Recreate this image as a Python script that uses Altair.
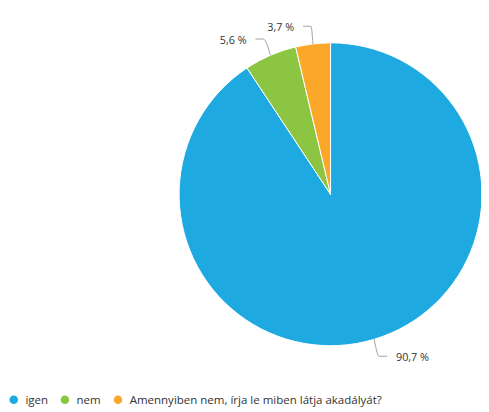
import altair as alt
import pandas as pd

categories = ["igen", "nem", "Amennyiben nem, írja le miben látja akadályát?"]
values = [90.7, 5.6, 3.7]
labels = ["90,7 %", "5,6 %", "3,7 %"]
colors = ["#1fa9e1", "#8bc541", "#fba72a"]

df = pd.DataFrame({
    "category": categories,
    "value": values,
    "label": labels,
    "order": list(range(len(categories))),
})

CX, CY, R = 328, 186, 154
OUT = 18
HOR = 8
GAP = 9

base = alt.Chart(df)

pie = base.mark_arc(radius=R, stroke="white", strokeWidth=1).encode(
    theta=alt.Theta("value:Q", stack=True),
    order=alt.Order("order:Q"),
    color=alt.Color(
        "category:N",
        sort=categories,
        scale=alt.Scale(domain=categories, range=colors),
        legend=alt.Legend(
            title=None,
            orient="none",
            legendX=0,
            legendY=389,
            direction="horizontal",
            symbolType="circle",
            symbolSize=75,
            symbolStrokeWidth=0,
            labelFont="Open Sans",
            labelFontSize=11.7,
            labelColor="#333333",
            labelLimit=400,
            columnPadding=11,
            labelOffset=6,
            padding=0,
        ),
    ),
    x=alt.value(CX),
    y=alt.value(CY),
)

geo = (
    base.transform_window(
        cum="sum(value)", sort=[alt.SortField("order")], frame=[None, 0]
    )
    .transform_joinaggregate(total="sum(value)")
    .transform_calculate(
        mid="(datum.cum - datum.value/2)/datum.total*2*PI",
    )
    .transform_calculate(
        s="sin(datum.mid)",
        c="cos(datum.mid)",
    )
    .transform_calculate(
        side="datum.s >= 0 ? 1 : -1",
        ex=f"{CX} + {R + OUT}*datum.s",
        ey=f"{CY} - {R + OUT}*datum.c",
    )
)

lines = (
    geo.transform_calculate(pts="[0,1,2]")
    .transform_flatten(["pts"])
    .transform_calculate(
        lx=f"datum.pts == 0 ? {CX} + {R}*datum.s : (datum.pts == 1 ? datum.ex : datum.ex + datum.side*{HOR})",
        ly=f"datum.pts == 0 ? {CY} - {R}*datum.c : datum.ey",
    )
    .mark_line(color="#a0a0a0", strokeWidth=1, interpolate="monotone")
    .encode(
        x=alt.X("lx:Q", scale=None, axis=None),
        y=alt.Y("ly:Q", scale=None, axis=None),
        detail="category:N",
        order="pts:Q",
    )
)

text_base = geo.transform_calculate(
    tx=f"datum.ex + datum.side*{HOR + GAP}",
    ty="datum.ey + 2",
)

text_right = text_base.transform_filter("datum.side > 0").mark_text(
    align="left", baseline="middle", font="Open Sans", fontSize=11, color="#333333"
).encode(
    x=alt.X("tx:Q", scale=None, axis=None),
    y=alt.Y("ty:Q", scale=None, axis=None),
    text="label:N",
)

text_left = text_base.transform_filter("datum.side < 0").mark_text(
    align="right", baseline="middle", font="Open Sans", fontSize=11, color="#333333"
).encode(
    x=alt.X("tx:Q", scale=None, axis=None),
    y=alt.Y("ty:Q", scale=None, axis=None),
    text="label:N",
)

chart = (
    alt.layer(pie, lines, text_right, text_left)
    .properties(
        width=481,
        height=404,
        autosize=alt.AutoSizeParams(type="none"),
        padding=0,
    )
    .configure_view(stroke=None)
)

chart.save("out.html", embed_options={"renderer": "svg", "actions": False})
